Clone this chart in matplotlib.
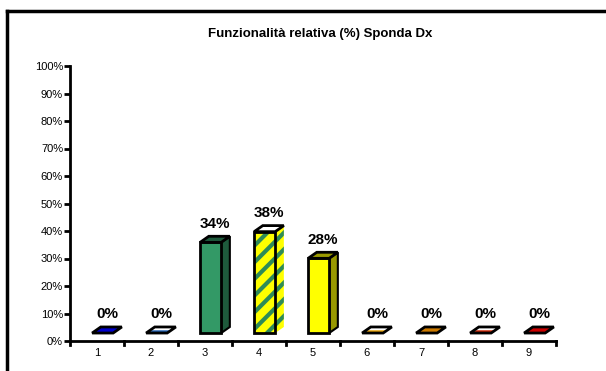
import matplotlib.pyplot as plt
from matplotlib.patches import Polygon
from matplotlib.lines import Line2D

plt.rcParams['font.family'] = ['Liberation Sans', 'DejaVu Sans']
plt.rcParams['hatch.linewidth'] = 3.0

# data
categories = ['1', '2', '3', '4', '5', '6', '7', '8', '9']
values = [0, 0, 34, 38, 28, 0, 0, 0, 0]
front_colors = ['#0000cc', '#ffffff', '#339966', '#ffff00', '#ffff00',
                '#ffffff', '#cc7a00', '#ffffff', '#cc0000']
side_colors = ['#000080', '#1f7a4d', '#1e5a3c', '#ffff00', '#999900',
               '#e6c000', '#996000', '#e05000', '#800000']
hatch_colors = [None, '#1f5fb0', None, '#2e8b57', None,
                '#e6a000', None, '#cc2200', None]
title = 'Funzionalità relativa (%) Sponda Dx'
yticks = list(range(0, 101, 10))

# 3d look
base = 2.9      # front face floor (data units)
k = 0.97        # height scale of front face
w = 0.39        # front face width
off = -0.09     # front face left offset from category centre
dx, dy = 0.16, 2.2

fig = plt.figure(figsize=(6.06, 3.71), dpi=100)
ax = fig.add_axes([70 / 606, 30 / 371, 486 / 606, 275 / 371])

for i, (v, fc, sc, hc) in enumerate(zip(values, front_colors, side_colors, hatch_colors)):
    x0 = i + 1 + off
    x1 = x0 + w
    y0 = base
    y1 = base + v * k
    if v > 0:
        side = [(x1, y0), (x1 + dx, y0 + dy), (x1 + dx, y1 + dy), (x1, y1)]
        if hc:
            ax.add_patch(Polygon(side, closed=True, facecolor=sc, edgecolor=hc,
                                 hatch='//', lw=0, zorder=2))
        else:
            ax.add_patch(Polygon(side, closed=True, facecolor=sc, edgecolor='black',
                                 lw=1.5, zorder=2))
        front = [(x0, y0), (x1, y0), (x1, y1), (x0, y1)]
        if hc:
            ax.add_patch(Polygon(front, closed=True, facecolor=fc, edgecolor=hc,
                                 hatch='//', lw=0, zorder=3))
        ax.add_patch(Polygon(front, closed=True, fill=not hc, facecolor=fc,
                             edgecolor='black', lw=2, zorder=3))
        top_c = '#ffffff' if hc else sc
        top = [(x0, y1), (x1, y1), (x1 + dx, y1 + dy), (x0 + dx, y1 + dy)]
        ax.add_patch(Polygon(top, closed=True, facecolor=top_c, edgecolor='black',
                             lw=2, zorder=4))
    else:
        top = [(x0, y0), (x1, y0), (x1 + dx, y0 + dy), (x0 + dx, y0 + dy)]
        if hc:
            ax.add_patch(Polygon(top, closed=True, facecolor='white', edgecolor=hc,
                                 lw=0, zorder=3))
            inner = [(x0 + 0.06, y0), (x1 + 0.02, y0), (x1 + 0.07, y0 + 1.0),
                     (x0 + 0.11, y0 + 1.0)]
            ax.add_patch(Polygon(inner, closed=True, facecolor=hc, lw=0, zorder=3))
            ax.add_patch(Polygon(top, closed=True, fill=False, edgecolor='black',
                                 lw=2, zorder=4))
        else:
            ax.add_patch(Polygon(top, closed=True, facecolor=fc, edgecolor='black',
                                 lw=2, zorder=4))
    ax.annotate(f'{v}%', (x0 + (w + dx) / 2, y1 + dy), xytext=(0, 4),
                textcoords='offset points', ha='center', va='bottom',
                fontsize=11, fontweight='bold')

ax.set_xlim(0.5, 9.5)
ax.set_ylim(0, 100)
ax.set_yticks(yticks)
ax.set_yticklabels([f'{t}%' for t in yticks], fontsize=8)
ax.set_xticks(range(1, 10))
ax.set_xticklabels(categories, fontsize=8)
ax.tick_params(axis='x', length=0, pad=5)
ax.tick_params(axis='y', length=4, width=2, pad=1)
# category separators on the x axis
for b in range(10):
    ax.plot([b + 0.5, b + 0.5], [0, -1.6], color='black', lw=2, clip_on=False)
for s in ['top', 'right']:
    ax.spines[s].set_visible(False)
for s in ['left', 'bottom']:
    ax.spines[s].set_linewidth(2)

fig.text(320 / 606, 1 - 34 / 371, title, ha='center', va='center',
         fontsize=9.5, fontweight='bold')

# outer chart frame (only top and left visible)
fig.add_artist(Line2D([7 / 606, 1], [1 - 10.5 / 371, 1 - 10.5 / 371],
                      color='black', lw=2.5, transform=fig.transFigure))
fig.add_artist(Line2D([7 / 606, 7 / 606], [0, 1 - 10.5 / 371],
                      color='black', lw=2.5, transform=fig.transFigure))

fig.savefig('out.png', dpi=100)
